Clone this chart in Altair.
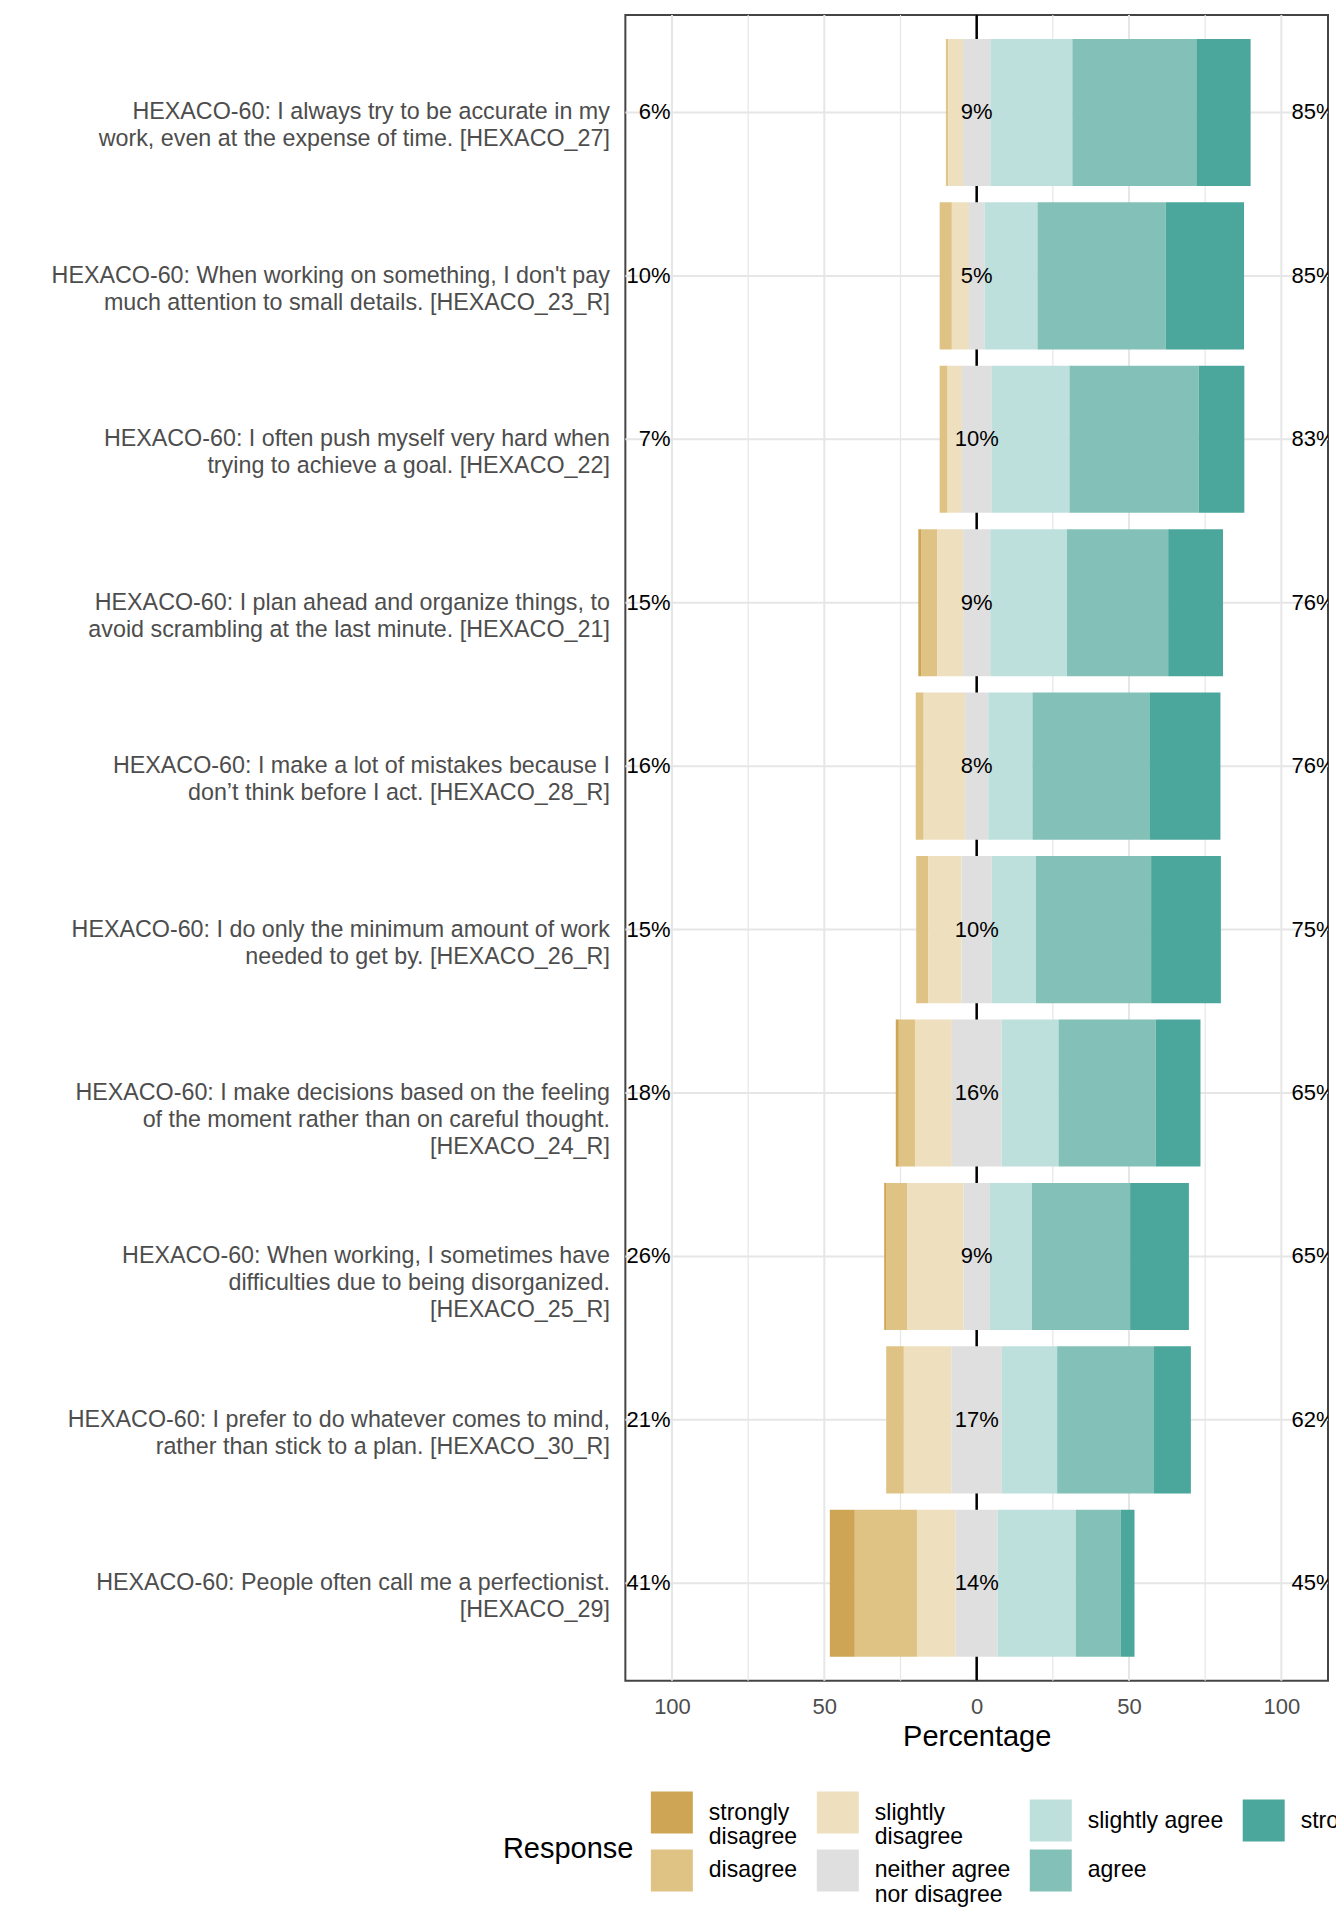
import altair as alt
import pandas as pd

items = [
    "HEXACO-60: I always try to be accurate in my|work, even at the expense of time. [HEXACO_27]",
    "HEXACO-60: When working on something, I don't pay|much attention to small details. [HEXACO_23_R]",
    "HEXACO-60: I often push myself very hard when|trying to achieve a goal. [HEXACO_22]",
    "HEXACO-60: I plan ahead and organize things, to|avoid scrambling at the last minute. [HEXACO_21]",
    "HEXACO-60: I make a lot of mistakes because I|don\u2019t think before I act. [HEXACO_28_R]",
    "HEXACO-60: I do only the minimum amount of work|needed to get by. [HEXACO_26_R]",
    "HEXACO-60: I make decisions based on the feeling|of the moment rather than on careful thought.|[HEXACO_24_R]",
    "HEXACO-60: When working, I sometimes have|difficulties due to being disorganized.|[HEXACO_25_R]",
    "HEXACO-60: I prefer to do whatever comes to mind,|rather than stick to a plan. [HEXACO_30_R]",
    "HEXACO-60: People often call me a perfectionist.|[HEXACO_29]",
]

responses = ["strongly|disagree", "disagree", "slightly|disagree",
             "neither agree|nor disagree", "slightly agree", "agree", "strongly agree"]
colors = ["#CDA554", "#DFC385", "#EEDFBF", "#DFDFDF", "#BEE0DD", "#83C1B8", "#4BA79B"]

strongly_disagree = [0.2, 0.0, 0.0, 0.9, 0.0, 0.0, 1.0, 0.6, 0.0, 8.2]
disagree = [0.6, 4.0, 2.6, 5.3, 2.6, 4.0, 5.3, 6.9, 5.8, 20.4]
slightly_disagree = [4.8, 5.6, 4.7, 8.5, 13.6, 10.9, 12.1, 18.5, 15.6, 12.7]
neutral = [9.0, 5.1, 9.7, 8.9, 7.6, 9.9, 16.3, 8.7, 16.6, 13.8]
slightly_agree = [26.9, 17.4, 25.6, 25.2, 14.5, 14.5, 18.7, 13.8, 18.1, 25.6]
agree = [40.7, 42.1, 42.4, 33.2, 38.4, 37.8, 31.9, 32.2, 31.8, 14.8]
strongly_agree = [17.8, 25.7, 15.0, 18.0, 23.3, 22.9, 14.7, 19.3, 12.1, 4.5]

major_ticks = [-100, -50, 0, 50, 100]
minor_ticks = [-75, -25, 25, 75]

series = [strongly_disagree, disagree, slightly_disagree, neutral,
          slightly_agree, agree, strongly_agree]

# build segments
seg_rows = []
lab_rows = []
for i, item in enumerate(items):
    vals = [s[i] for s in series]
    low = sum(vals[:3])
    high = sum(vals[4:])
    start = -low - vals[3] / 2.0
    for k, (r, v) in enumerate(zip(responses, vals)):
        seg_rows.append({"item": item, "response": r, "order": k,
                         "x0": start, "x1": start + v})
        start += v
    lab_rows.append({"item": item,
                     "low": f"{int(low + 0.5)}%",
                     "mid": f"{int(vals[3] + 0.5)}%",
                     "high": f"{int(high + 0.5)}%"})

seg = pd.DataFrame(seg_rows)
labs = pd.DataFrame(lab_rows)

FONT = "Liberation Sans"

xscale = alt.Scale(domain=[-115.3, 115.3], nice=False, zero=False)
xaxis = alt.Axis(values=major_ticks, labelExpr="abs(datum.value)", title="Percentage",
                 grid=False, ticks=False, tickSize=0, domain=False,
                 labelFontSize=22, labelColor="#4D4D4D", labelPadding=16,
                 titleFontSize=29, titleFontWeight="normal", titleColor="black",
                 titlePadding=5, labelFont=FONT, titleFont=FONT)
yscale = alt.Scale(domain=items, paddingInner=0.1, paddingOuter=0.147)
yaxis = alt.Axis(title=None, labelExpr="split(datum.label, '|')", labelFontSize=23.3,
                 labelColor="#4D4D4D", labelLineHeight=27, labelPadding=16,
                 ticks=False, tickSize=0, domain=False, grid=False, labelLimit=0,
                 labelAlign="right", labelBaseline="middle", labelFont=FONT)

Y = alt.Y("item:N", sort=items, scale=yscale, axis=yaxis)

hgrid = alt.Chart(labs).mark_rule(color="#E6E6E6", strokeWidth=2).encode(y=Y)

vmajor = alt.Chart(pd.DataFrame({"v": major_ticks})).mark_rule(
    color="#E6E6E6", strokeWidth=2).encode(x=alt.X("v:Q", scale=xscale, axis=xaxis))
vminor = alt.Chart(pd.DataFrame({"v": minor_ticks})).mark_rule(
    color="#E6E6E6", strokeWidth=1.2).encode(x=alt.X("v:Q", scale=xscale, axis=xaxis))

zero = alt.Chart(pd.DataFrame({"v": [0]})).mark_rule(
    color="black", strokeWidth=2.5).encode(x=alt.X("v:Q", scale=xscale, axis=xaxis))

legend_order = ["strongly|disagree", "slightly|disagree", "slightly agree", "strongly agree",
                "disagree", "neither agree|nor disagree", "agree"]
legend_colors = [colors[responses.index(r)] for r in legend_order]

legend = alt.Legend(orient="none", legendX=-122.5, legendY=1777, direction="horizontal",
                    columns=4, title="Response", titleOrient="left", titleAnchor="middle",
                    titleBaseline="middle", titlePadding=17, titleFontSize=29,
                    titleFontWeight="normal", titleColor="black", titleFont=FONT,
                    symbolType="square", symbolSize=1764, symbolStrokeWidth=0,
                    symbolOpacity=1, labelOffset=16, columnPadding=19, rowPadding=0,
                    labelFontSize=23, labelColor="black", labelFont=FONT,
                    labelExpr="split(datum.label, '|')", labelLimit=0, padding=0)

bars = alt.Chart(seg).mark_bar().encode(
    x=alt.X("x0:Q", scale=xscale, axis=xaxis, stack=None),
    x2="x1:Q",
    y=Y,
    color=alt.Color("response:N", scale=alt.Scale(domain=legend_order, range=legend_colors),
                    legend=legend),
    order="order:Q",
)

txt_kw = dict(fontSize=22, color="black", font=FONT, baseline="middle", clip=True)
low_t = alt.Chart(labs).mark_text(align="right", **txt_kw).encode(
    x=alt.datum(-100.5, scale=xscale, axis=xaxis), y=Y, text="low:N")
mid_t = alt.Chart(labs).mark_text(align="center", **txt_kw).encode(
    x=alt.datum(0, scale=xscale, axis=xaxis), y=Y, text="mid:N")
high_t = alt.Chart(labs).mark_text(align="left", **txt_kw).encode(
    x=alt.datum(103.3, scale=xscale, axis=xaxis), y=Y, text="high:N")

chart = alt.layer(hgrid, vminor, vmajor, zero, bars, low_t, mid_t, high_t).properties(
    width=702.8, height=1666.3,
    autosize=alt.AutoSizeParams(type="none"),
    padding={"left": 617.5, "top": 6.7, "right": 8, "bottom": 232},
).configure(font=FONT).configure_view(stroke="#444444", strokeWidth=2)

chart.save("out.html", embed_options={"renderer": "svg", "actions": False})
